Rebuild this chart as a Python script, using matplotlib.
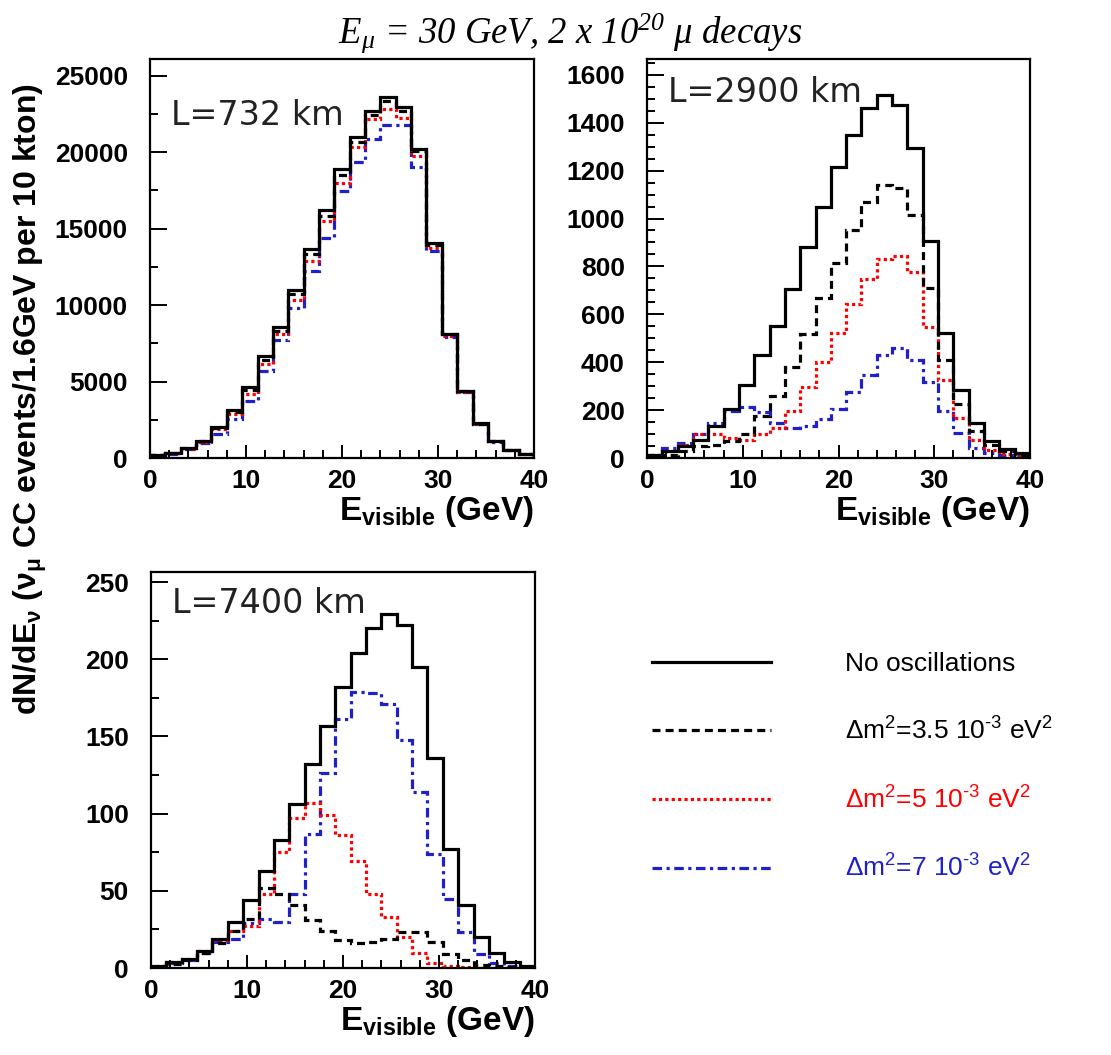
import matplotlib.pyplot as plt
import numpy as np
from matplotlib.lines import Line2D

# 25 bins of 1.6 GeV between 0 and 40 GeV
edges = np.linspace(0, 40, 26)

# L = 732 km
noosc_732 = [200, 330, 660, 1140, 2040, 3120, 4660, 6640, 8570, 10990, 13670, 16220, 18900,
             20990, 22700, 23630, 22970, 20220, 14070, 8130, 4400, 2260, 1100, 550, 260]
dm35_732 = [190, 320, 640, 1100, 1980, 3000, 4480, 6400, 8300, 10700, 13350, 15850, 18500,
            20650, 22450, 23350, 22700, 20050, 13950, 8080, 4380, 2250, 1090, 545, 255]
dm5_732 = [180, 310, 620, 1060, 1870, 2860, 4180, 6150, 8130, 10330, 12860, 15490, 18020,
           20330, 22200, 22860, 22240, 19780, 13740, 8000, 4350, 2230, 1080, 540, 250]
dm7_732 = [170, 290, 580, 980, 1540, 2530, 3740, 5710, 7690, 9780, 12200, 14400, 17470,
           19340, 20880, 21760, 21760, 19010, 13520, 7910, 4300, 2200, 1070, 535, 250]

# L = 2900 km
noosc_2900 = [14, 28, 49, 77, 134, 204, 303, 430, 553, 707, 880, 1046, 1215,
              1349, 1462, 1514, 1472, 1296, 904, 521, 285, 148, 73, 39, 21]
dm35_2900 = [7, 14, 28, 50, 56, 70, 99, 176, 260, 380, 517, 666, 813,
             951, 1070, 1141, 1127, 1014, 711, 408, 225, 113, 56, 28, 14]
dm5_2900 = [14, 28, 56, 99, 99, 85, 77, 99, 127, 197, 296, 401, 521,
            641, 746, 831, 845, 775, 549, 324, 169, 77, 35, 17, 10]
dm7_2900 = [14, 42, 63, 99, 148, 197, 211, 190, 148, 127, 134, 162, 204,
            275, 345, 430, 458, 408, 317, 197, 106, 42, 21, 11, 7]

# L = 7400 km
noosc_7400 = [1, 4, 6, 11, 19, 30, 44, 63, 83, 106, 132, 157, 182,
              204, 220, 229, 222, 195, 136, 77, 41, 20, 10, 4, 1]
dm35_7400 = [0.5, 2.5, 5, 10, 16, 24, 32, 52, 48, 41, 31, 24, 18,
             16, 17, 19, 23, 23, 17, 9, 5, 2, 1, 0.5, 0.5]
dm5_7400 = [1, 4, 6, 11, 18, 24, 27, 48, 75, 97, 107, 99, 86,
            69, 48, 33, 20, 10, 3, 1, 0.5, 0.3, 0.3, 0.3, 0.3]
dm7_7400 = [0.5, 3, 5, 10, 17, 19, 29, 32, 30, 48, 87, 126, 161,
            179, 178, 171, 148, 114, 74, 45, 23, 9, 3, 1, 0.5]

labels = ['No oscillations',
          r'Δm$\mathregular{^{2}}$=3.5 10$\mathregular{^{‐3}}$ eV$\mathregular{^{2}}$',
          r'Δm$\mathregular{^{2}}$=5 10$\mathregular{^{‐3}}$ eV$\mathregular{^{2}}$',
          r'Δm$\mathregular{^{2}}$=7 10$\mathregular{^{‐3}}$ eV$\mathregular{^{2}}$']
colors = ['black', 'black', '#ff0000', '#2020c8']
styles = ['-', (0, (2.5, 1.6)), (0, (1, 1)), (0, (3, 1.4, 1, 1.4))]

panels = [
    ('L=732 km', [noosc_732, dm35_732, dm5_732, dm7_732], 26100, 5000, 2500,
     [150, 458, 384, 399], 0.835),
    ('L=2900 km', [noosc_2900, dm35_2900, dm5_2900, dm7_2900], 1666, 200, 50,
     [647, 458, 383, 399], 0.893),
    ('L=7400 km', [noosc_7400, dm35_7400, dm5_7400, dm7_7400], 256.5, 50, 25,
     [151, 968, 384, 396], 0.896),
]

W, H = 1111, 1055
fig = plt.figure(figsize=(W / 100, H / 100), dpi=100)
sans = 'Liberation Sans'

for name, series, ytop, ymaj, ymin, (px, pb, pw, ph), ty in panels:
    ax = fig.add_axes([px / W, 1 - pb / H, pw / W, ph / H])
    # draw the oscillated curves first so the solid one sits on top
    for i in [3, 2, 1, 0]:
        ax.stairs(series[i], edges, baseline=0, color=colors[i],
                  linestyle=styles[i], linewidth=2.3)
    ax.set_xlim(0, 40)
    ax.set_ylim(0, ytop)
    ax.set_xticks(np.arange(0, 41, 10))
    ax.set_xticks(np.arange(0, 41, 2), minor=True)
    ax.set_yticks(np.arange(0, ytop, ymaj))
    ax.set_yticks(np.arange(0, ytop, ymin), minor=True)
    ax.tick_params(axis='both', which='both', direction='in', top=False, right=False,
                   width=1.4, labelsize=19)
    ax.tick_params(axis='x', which='major', length=9.5, pad=8)
    ax.tick_params(axis='x', which='minor', length=5.5)
    ax.tick_params(axis='y', which='major', length=12, pad=16)
    ax.tick_params(axis='y', which='minor', length=5.5)
    for lab in ax.get_xticklabels() + ax.get_yticklabels():
        lab.set_fontfamily(sans)
        lab.set_fontweight('bold')
    for sp in ax.spines.values():
        sp.set_linewidth(1.6)
    ax.set_xlabel(r'$\mathregular{E_{visible}}$ (GeV)', fontsize=24, fontweight='bold',
                  family=sans, ha='right')
    ax.xaxis.set_label_coords(1.0, -0.09)
    ax.text(0.055, ty, name, transform=ax.transAxes, fontsize=24, family='DejaVu Sans',
            va='baseline', ha='left', color='#222222')

fig.text(0.027, 0.622,
         r'dN/d$\mathregular{E_{ν}}$ ($\mathregular{ν_{μ}}$ CC events/1.6GeV per 10 kton)',
         rotation=90, ha='center', va='center', fontsize=23, fontweight='bold', family=sans)

fig.text(0.513, 0.96, r'$\mathregular{E_{μ}}$ = 30 GeV, 2 x 10$\mathregular{^{20}}$ μ decays',
         ha='center', va='baseline', fontsize=26.5, family='Liberation Serif', style='italic')

handles = [Line2D([], [], color=c, linestyle=s, linewidth=2.3) for c, s in zip(colors, styles)]
leg = fig.legend(handles, labels, loc='upper left', bbox_to_anchor=(652 / W, 1 - 652 / H),
                 frameon=False, handlelength=4.5, handletextpad=2.8,
                 labelspacing=1.57, borderpad=0, borderaxespad=0,
                 prop={'family': sans, 'size': 19})
for t, c in zip(leg.get_texts(), colors):
    t.set_color(c)

fig.savefig('out.png', dpi=100)
